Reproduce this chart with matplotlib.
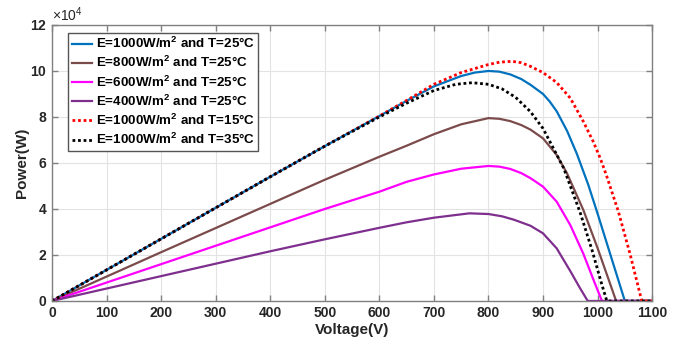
import numpy as np
import matplotlib
matplotlib.use("Agg")
import matplotlib.pyplot as plt
from matplotlib.ticker import ScalarFormatter, MultipleLocator

# --- Data (power, in units of 1e4 W) ---
v_lin = [0, 100, 200, 300, 400, 500]

v_1000_25 = v_lin + [600, 650, 700, 750, 775, 800, 820, 840, 860, 877, 900, 912, 925, 944, 962, 983, 1000, 1025, 1050, 1100]
p_1000_25 = [0, 1.35, 2.70, 4.05, 5.40, 6.73,
             8.04, 8.70, 9.33, 9.78, 9.93, 10.0, 9.97, 9.85, 9.65, 9.40, 9.00, 8.68, 8.25, 7.40, 6.40, 5.05, 3.80, 1.90, 0, 0]

v_800_25 = v_lin + [600, 650, 700, 750, 800, 820, 840, 860, 877, 900, 925, 944, 974, 1000, 1020, 1034, 1100]
p_800_25 = [0, 1.06, 2.12, 3.17, 4.22, 5.27,
            6.27, 6.75, 7.25, 7.68, 7.95, 7.92, 7.82, 7.65, 7.45, 7.07, 6.35, 5.55, 3.95, 2.30, 0.95, 0, 0]

v_600_25 = v_lin + [600, 650, 700, 750, 800, 820, 840, 860, 877, 900, 925, 950, 974, 992, 1008, 1100]
p_600_25 = [0, 0.80, 1.60, 2.40, 3.20, 4.00,
            4.75, 5.18, 5.50, 5.75, 5.87, 5.84, 5.74, 5.56, 5.34, 4.97, 4.32, 3.30, 2.05, 0.95, 0, 0]

v_400_25 = v_lin + [600, 650, 700, 765, 800, 825, 847, 877, 900, 925, 950, 968, 982, 1100]
p_400_25 = [0, 0.54, 1.08, 1.62, 2.16, 2.68,
            3.18, 3.42, 3.62, 3.81, 3.78, 3.68, 3.53, 3.27, 2.94, 2.29, 1.30, 0.55, 0, 0]

v_1000_15 = v_lin + [600, 650, 700, 750, 800, 820, 843, 860, 877, 900, 925, 950, 974, 992, 1005, 1016, 1038, 1060, 1081, 1100]
p_1000_15 = [0, 1.35, 2.70, 4.05, 5.40, 6.73,
             8.04, 8.72, 9.42, 9.93, 10.28, 10.38, 10.42, 10.36, 10.20, 9.93, 9.50, 8.82, 7.80, 6.93, 6.20, 5.48, 3.90, 2.00, 0, 0]

v_1000_35 = v_lin + [600, 650, 700, 740, 770, 800, 825, 850, 877, 900, 919, 938, 968, 990, 1008, 1017, 1100]
p_1000_35 = [0, 1.35, 2.70, 4.05, 5.40, 6.73,
             8.00, 8.60, 9.15, 9.42, 9.49, 9.42, 9.22, 8.85, 8.23, 7.50, 6.64, 5.77, 3.85, 2.20, 0.70, 0, 0]

labels = [r"E=1000W/m$^{2}$ and T=25°C",
          r"E=800W/m$^{2}$ and T=25°C",
          r"E=600W/m$^{2}$ and T=25°C",
          r"E=400W/m$^{2}$ and T=25°C",
          r"E=1000W/m$^{2}$ and T=15°C",
          r"E=1000W/m$^{2}$ and T=35°C"]

# --- Style ---
plt.rcParams['font.family'] = ['Liberation Sans', 'DejaVu Sans']
plt.rcParams['font.weight'] = 'bold'
plt.rcParams['mathtext.default'] = 'regular'

COLORS = ['#0072BD', '#7B4B4B', '#FF00FF', '#7E2F8E', '#FF0000', '#000000']
DOT = (0, (1, 1))

fig = plt.figure(figsize=(6.8, 3.42), dpi=100)
ax = fig.add_axes([0.0765, 0.12, 0.8825, 0.807])

series = [(v_1000_25, p_1000_25, '-'),
          (v_800_25, p_800_25, '-'),
          (v_600_25, p_600_25, '-'),
          (v_400_25, p_400_25, '-'),
          (v_1000_15, p_1000_15, DOT),
          (v_1000_35, p_1000_35, DOT)]

for (v, p, ls), c, lab in zip(series, COLORS, labels):
    ax.plot(v, np.array(p) * 1e4, color=c, linestyle=ls, linewidth=2 if ls == DOT else 1.6, label=lab)

ax.set_xlim(0, 1100)
ax.set_ylim(0, 12e4)
ax.xaxis.set_major_locator(MultipleLocator(100))
ax.yaxis.set_major_locator(MultipleLocator(2e4))
fmt = ScalarFormatter(useMathText=True)
fmt.set_powerlimits((4, 4))
ax.yaxis.set_major_formatter(fmt)
ax.yaxis.get_offset_text().set_fontsize(10)
ax.yaxis.get_offset_text().set_fontweight('normal')
ax.yaxis.get_offset_text().set_color('#262626')

ax.grid(True, color='#e3e3e3', linewidth=0.8)
ax.tick_params(direction='in', top=True, right=True, length=4, width=1, colors='#808080',
               labelcolor='#262626', labelsize=10)
for s in ax.spines.values():
    s.set_color('#808080')
    s.set_linewidth(1)

ax.set_xlabel("Voltage(V)", fontsize=11, fontweight='bold', color='#262626', labelpad=2)
ax.set_ylabel("Power(W)", fontsize=11, fontweight='bold', color='#262626', labelpad=1)

leg = ax.legend(loc='upper left', bbox_to_anchor=(0.027, 0.972), fontsize=9.6, fancybox=False,
                framealpha=1, edgecolor='#555555', handlelength=1.5, handletextpad=0.3,
                labelspacing=0.3, borderpad=0.25, borderaxespad=0)
for t in leg.get_texts():
    t.set_color('#000000')

fig.savefig("out.png", dpi=100)
